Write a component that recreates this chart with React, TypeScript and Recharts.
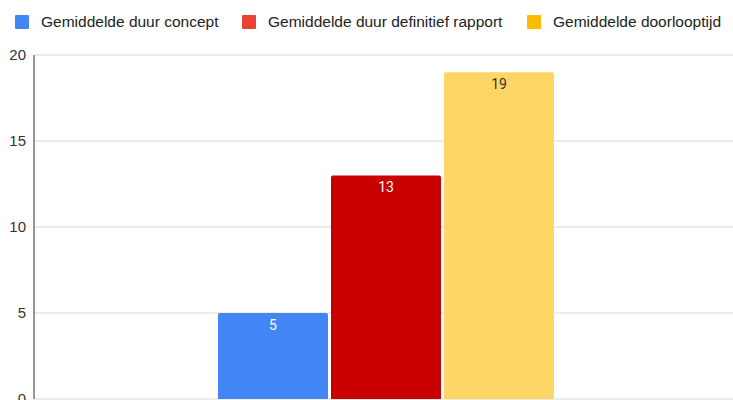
import React from "react";
import { BarChart, Bar, XAxis, YAxis, CartesianGrid, LabelList } from "recharts";

const categories = [""];
const conceptValues = [5];
const definitiefValues = [13];
const doorlooptijdValues = [19];
const yTicks = [0, 5, 10, 15, 20];

const seriesNames = [
  "Gemiddelde duur concept",
  "Gemiddelde duur definitief rapport",
  "Gemiddelde doorlooptijd",
];
const legendColors = ["#4285F4", "#EA4335", "#FBBC04"];
const barColors = ["#4285F4", "#C80000", "#FFD666"];
const labelColors = ["#FFFFFF", "#FFFFFF", "#333333"];
const legendLeft = [15, 242, 527];

const data = categories.map((c, i) => ({
  name: c,
  concept: conceptValues[i],
  definitief: definitiefValues[i],
  doorloop: doorlooptijdValues[i],
}));

const keys = ["concept", "definitief", "doorloop"];
const arial = "'Liberation Sans', Arial, sans-serif";
const roboto = "Roboto, 'Noto Sans', sans-serif";

export default function App() {
  return (
    <div style={{ position: "absolute", left: 0, top: 0, width: 733, height: 400, overflow: "hidden", background: "#fff" }}>
      {seriesNames.map((n, i) => (
        <div
          key={n}
          style={{
            position: "absolute",
            left: legendLeft[i],
            top: 15,
            height: 14,
            display: "flex",
            alignItems: "center",
            fontFamily: arial,
            fontSize: 15.5,
            color: "#222",
            whiteSpace: "nowrap",
          }}
        >
          <div style={{ width: 14, height: 14, background: legendColors[i], borderRadius: 1, marginRight: 12, flexShrink: 0 }} />
          <span>{n}</span>
        </div>
      ))}
      <div style={{ position: "absolute", left: 0, top: 0 }}>
        <BarChart
          width={733}
          height={400}
          data={data}
          margin={{ top: 55, right: 0, bottom: 1, left: 0 }}
          barGap={3}
          barSize={110}
        >
          <CartesianGrid vertical={false} stroke="#d9d9d9" />
          <XAxis
            dataKey="name"
            height={0}
            tick={false}
            tickLine={false}
            axisLine={{ stroke: "#333" }}
            padding={{ left: 4, right: 0 }}
          />
          <YAxis
            width={34}
            domain={[0, 20]}
            ticks={yTicks}
            tickLine={false}
            axisLine={{ stroke: "#333" }}
            tick={{ fill: "#333", fontSize: 15, fontFamily: arial }}
            interval={0}
          />
          {keys.map((k, i) => (
            <Bar key={k} dataKey={k} name={seriesNames[i]} fill={barColors[i]} radius={[2, 2, 0, 0]} isAnimationActive={false}>
              <LabelList
                dataKey={k}
                position="insideTop"
                offset={7}
                fill={labelColors[i]}
                style={{ fontFamily: roboto, fontSize: 14 }}
              />
            </Bar>
          ))}
        </BarChart>
      </div>
    </div>
  );
}
